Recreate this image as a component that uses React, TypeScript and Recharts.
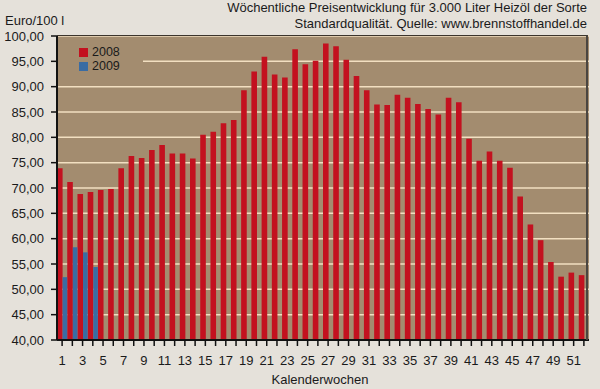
import React from "react";
import { Bar, BarChart, CartesianGrid, XAxis, YAxis } from "recharts";

// Kalenderwochen 1..52
const weeks: number[] = Array.from({ length: 52 }, (_, i) => i + 1);

const prices2008 = [
  73.9, 71.2, 68.8, 69.2, 69.6, 69.8, 73.9, 76.3, 75.9, 77.5,
  78.5, 76.8, 76.8, 75.8, 80.5, 81.1, 82.8, 83.4, 89.3, 93.0,
  95.9, 92.4, 91.8, 97.4, 94.4, 95.1, 98.5, 98.0, 95.3, 92.1,
  89.3, 86.5, 86.4, 88.4, 87.8, 86.6, 85.6, 84.5, 87.8, 86.9,
  79.7, 75.4, 77.2, 75.4, 74.0, 68.3, 62.8, 59.7, 55.4, 52.5,
  53.3, 52.8,
];

const prices2009 = [52.4, 58.3, 57.3, 54.4];

const yTicks = [40, 45, 50, 55, 60, 65, 70, 75, 80, 85, 90, 95, 100];

const data = weeks.map((w, i) => ({
  week: w,
  y2008: prices2008[i],
  y2009: i < prices2009.length ? prices2009[i] : null,
}));

const RED = "#c3111f";
const BLUE = "#3a6ca3";
const PLOT_BG = "#a38c6f";
const PAGE_BG = "#e5e1da";
const INK = "#1a1a1a";

const fmt = (v: number) => v.toFixed(2).replace(".", ",");

function WeekTick(props: any) {
  const { x, y, payload } = props;
  if (payload.value % 2 === 0) return <g />;
  return (
    <text x={x} y={y} dy="0.71em" textAnchor="middle" fontSize={13} fill={INK}>
      {payload.value}
    </text>
  );
}

export default function App() {
  return (
    <div
      style={{
        position: "absolute",
        left: 0,
        top: 0,
        width: 600,
        height: 389,
        background: PAGE_BG,
        fontFamily: '"Liberation Sans", Arial, sans-serif',
        color: INK,
        overflow: "hidden",
      }}
    >
      <div style={{ position: "absolute", right: 13, top: 0, fontSize: 13, lineHeight: "16px", textAlign: "right" }}>
        Wöchentliche Preisentwicklung für 3.000 Liter Heizöl der Sorte
        <br />
        Standardqualität. Quelle: www.brennstoffhandel.de
      </div>
      <div style={{ position: "absolute", left: 5, top: 13, fontSize: 13, lineHeight: "16px" }}>Euro/100 l</div>

      <BarChart
        width={600}
        height={389}
        data={data}
        margin={{ top: 36, right: 11, left: 0, bottom: 19 }}
        barGap={0}
        barCategoryGap={0}
      >
        <CartesianGrid vertical={false} fill={PLOT_BG} stroke="#f2dfc1" strokeWidth={1.5} />
        <XAxis
          dataKey="week"
          interval={0}
          height={30}
          tickSize={6}
          tickMargin={10}
          tick={<WeekTick />}
          axisLine={{ stroke: "#111", strokeWidth: 2 }}
          tickLine={{ stroke: "#111", strokeWidth: 1.5 }}
        />
        <YAxis
          width={57}
          domain={[40, 100]}
          ticks={yTicks}
          allowDataOverflow
          tickFormatter={fmt}
          tickSize={6}
          tickMargin={7}
          tick={{ fill: INK, fontSize: 13 }}
          axisLine={{ stroke: "#111", strokeWidth: 2 }}
          tickLine={{ stroke: "#111", strokeWidth: 1.5 }}
        />
        <Bar dataKey="y2008" fill={RED} barSize={5.6} isAnimationActive={false} />
        <Bar dataKey="y2009" fill={BLUE} barSize={4.6} isAnimationActive={false} />
      </BarChart>

      {/* plot frame (top/right edge) */}
      <div
        style={{
          position: "absolute",
          left: 57,
          top: 35,
          width: 531,
          height: 305,
          borderTop: "1.5px solid #3b342c",
          borderRight: "2px solid #4a4540",
          boxSizing: "border-box",
          pointerEvents: "none",
        }}
      />

      {/* legend */}
      <div
        style={{
          position: "absolute",
          left: 58,
          top: 41,
          width: 85,
          height: 33,
          background: PLOT_BG,
          fontSize: 12.5,
        }}
      >
        {[
          { name: "2008", color: RED },
          { name: "2009", color: BLUE },
        ].map((s, i) => (
          <div key={s.name} style={{ position: "absolute", left: 21, top: 4 + i * 14, height: 14, display: "flex", alignItems: "center" }}>
            <span style={{ display: "inline-block", width: 9, height: 9, background: s.color, marginRight: 4 }} />
            <span style={{ lineHeight: "14px" }}>{s.name}</span>
          </div>
        ))}
      </div>

      <div style={{ position: "absolute", left: 220, width: 200, top: 372, fontSize: 13, lineHeight: "16px", textAlign: "center" }}>
        Kalenderwochen
      </div>
    </div>
  );
}
